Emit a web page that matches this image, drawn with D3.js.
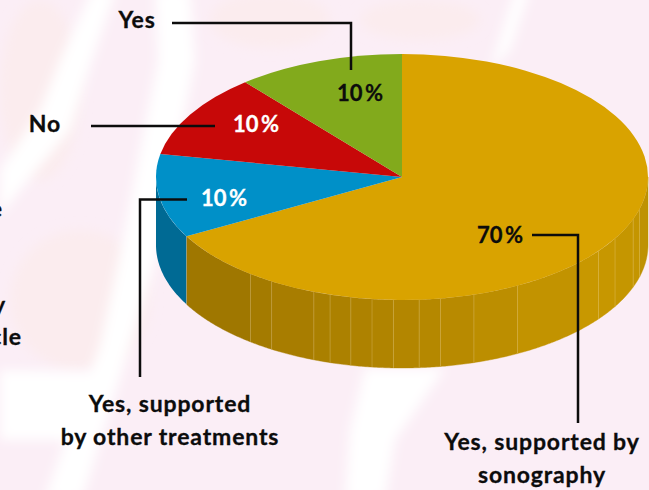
<!DOCTYPE html>
<html>
<head>
<meta charset="utf-8">
<script src="https://cdn.jsdelivr.net/npm/d3@7"></script>
<style>
  html, body { margin: 0; padding: 0; background: #fff; }
  svg { display: block; }
  text { font-family: Lato, "Noto Sans", sans-serif; font-weight: 700; font-size: 23px; letter-spacing: .85px; fill: #0c0c0c; stroke: #0c0c0c; stroke-width: .3px; }
  text.share { letter-spacing: 0; font-size: 22px; word-spacing: -3px; }
</style>
</head>
<body>
<div id="chart"></div>
<script>
// shares as drawn (the printed labels are rounded)
const categories = ['Yes, supported by sonography', 'Yes, supported by other treatments', 'No', 'Yes'];
const shares = [67, 11, 11, 11];
const shareLabels = ['70 %', '10 %', '10 %', '10 %'];
const topColors = ['#d9a300', '#0090c8', '#c70808', '#82aa1c'];
const labelColors = ['#0c0c0c', '#ffffff', '#ffffff', '#0c0c0c'];
// degrees clockwise from 12 o'clock where the wall facets of the big slice end
const facetBreaks = [90, 105, 110, 120, 127, 134, 152, 163, 171, 176, 182, 187, 192, 197, 201, 212, 218, 241];

const width = 649, height = 490;
const cx = 402, cy = 177, rx = 246, ry = 123, depth = 68;
const rad = d => d * Math.PI / 180;

const svg = d3.select('#chart').append('svg').attr('width', width).attr('height', height);

// washed out backdrop
const defs = svg.append('defs');
defs.append('filter').attr('id', 'soft').append('feGaussianBlur').attr('stdDeviation', 6);
const bg = svg.append('g');
bg.append('rect').attr('width', width).attr('height', height).attr('fill', '#fbeef6');
const peach = bg.append('g').attr('filter', 'url(#soft)').attr('fill', '#fbecee');
peach.append('ellipse').attr('cx', 40).attr('cy', 90).attr('rx', 40).attr('ry', 90);
peach.append('ellipse').attr('cx', 80).attr('cy', 300).attr('rx', 70).attr('ry', 70);
peach.append('ellipse').attr('cx', 270).attr('cy', 20).attr('rx', 60).attr('ry', 28);
peach.append('ellipse').attr('cx', 420).attr('cy', 20).attr('rx', 60).attr('ry', 20);
const streaks = bg.append('g').attr('filter', 'url(#soft)').attr('fill', '#ffffff');
[
  'M92,-10 L116,-10 L92,60 L70,130 L20,190 L0,215 L0,170 L40,110 L60,60 Z',
  'M155,-10 L190,-10 L195,60 L170,190 L160,245 L130,345 L82,500 L44,500 L100,345 L122,245 L140,150 L158,60 Z',
  'M365,368 L445,368 L395,440 L385,500 L345,500 L350,430 Z',
  'M515,-10 L530,-10 L510,50 L490,70 Z',
  'M0,370 L110,372 L70,440 L0,440 Z'
].forEach(d => streaks.append('path').attr('d', d));

// the pie itself, angles run clockwise from the top
const arcs = d3.pie().sort(null).value(d => d)(shares);
const wallColor = d3.scaleLinear()
  .domain([90, 100, 130, 190, 241])
  .range(['#b08a08', '#c29400', '#c89800', '#ae8200', '#9a7400']);

const rimAt = a => [cx + rx * Math.sin(a), cy - ry * Math.cos(a)];
const wallArea = d3.area()
  .x(a => rimAt(a)[0])
  .y0(a => rimAt(a)[1])
  .y1(a => rimAt(a)[1] + depth);

const wall = svg.append('g');
const wallPath = (from, to) => wallArea(d3.range(from, to, 0.5).concat(to).map(rad));

// left bit belongs to the blue slice
wall.append('path')
  .attr('d', wallPath(arcs[0].endAngle * 180 / Math.PI, 270))
  .attr('fill', '#006a94');

wall.selectAll('path.facet')
  .data(d3.pairs(facetBreaks))
  .enter().append('path')
  .attr('class', 'facet')
  .attr('d', d => wallPath(d[0], d[1]))
  .attr('fill', d => wallColor((d[0] + d[1]) / 2))
  .attr('stroke', d => wallColor((d[0] + d[1]) / 2))
  .attr('stroke-width', 0.4);

wall.selectAll('line.seam')
  .data(facetBreaks.slice(1, -1))
  .enter().append('line')
  .attr('class', 'seam')
  .attr('x1', d => rimAt(rad(d))[0])
  .attr('x2', d => rimAt(rad(d))[0])
  .attr('y1', d => rimAt(rad(d))[1])
  .attr('y2', d => rimAt(rad(d))[1] + depth)
  .attr('stroke', 'rgba(255,235,180,0.22)')
  .attr('stroke-width', 1);

const arc = d3.arc().innerRadius(0).outerRadius(rx);
svg.append('g')
  .attr('transform', `translate(${cx},${cy}) scale(1,${ry / rx})`)
  .selectAll('path')
  .data(arcs)
  .enter().append('path')
  .attr('d', arc)
  .attr('fill', (d, i) => topColors[i]);

// leader lines
const leaders = [
  [[172, 23], [351, 23], [351, 70]],
  [[91, 126], [215, 126]],
  [[187, 199.5], [140, 199.5], [140, 377]],
  [[532, 235], [578, 235], [578, 423]]
];
svg.append('g').selectAll('path')
  .data(leaders)
  .enter().append('path')
  .attr('d', d3.line())
  .attr('fill', 'none')
  .attr('stroke', '#0c0c0c')
  .attr('stroke-width', 2.5);

// percent labels
const shareLabelAt = [[500, 235], [224, 198], [256, 124], [360, 93]];
svg.append('g').selectAll('text')
  .data(shareLabels)
  .enter().append('text')
  .attr('class', 'share')
  .attr('x', (d, i) => shareLabelAt[i][0])
  .attr('y', (d, i) => shareLabelAt[i][1])
  .attr('dy', '.35em')
  .attr('text-anchor', 'middle')
  .style('fill', (d, i) => labelColors[i])
  .style('stroke', (d, i) => labelColors[i])
  .text(d => d);

// category labels, plus the bits of another label cut off by the left edge
const outerLabels = [
  {lines: ['Yes'], x: 137, y: 20},
  {lines: ['No'], x: 45, y: 124},
  {lines: ['Yes, supported', 'by other treatments'], x: 170, y: 404},
  {lines: ['Yes, supported by', 'sonography'], x: 542, y: 442}
];
const outer = svg.append('g').selectAll('text')
  .data(outerLabels)
  .enter().append('text')
  .attr('text-anchor', 'middle');
outer.selectAll('tspan')
  .data(d => d.lines.map((t, i) => ({t, x: d.x, y: d.y + i * 32.5})))
  .enter().append('tspan')
  .attr('x', d => d.x)
  .attr('y', d => d.y)
  .attr('dy', '.35em')
  .text(d => d.t);

svg.append('g').selectAll('text')
  .data([['e', 209], ['y', 305], ['cle', 337]])
  .enter().append('text')
  .attr('x', d => d[0] === 'cle' ? 22 : (d[0] === 'e' ? 3 : 6))
  .attr('y', d => d[1])
  .attr('dy', '.35em')
  .attr('text-anchor', 'end')
  .text(d => d[0]);
</script>
</body>
</html>
